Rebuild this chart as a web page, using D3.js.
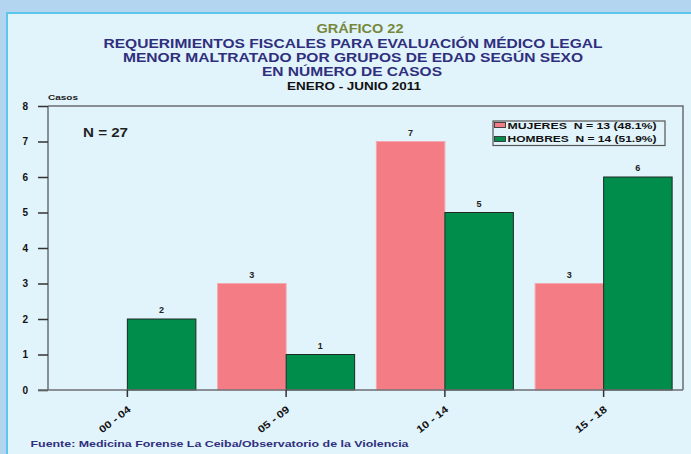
<!DOCTYPE html>
<html><head><meta charset="utf-8">
<script src="https://cdn.jsdelivr.net/npm/d3@7"></script>
<style>html,body{margin:0;padding:0;background:#b3d5ef;}svg{display:block;}</style>
</head><body>
<svg id="c" width="691" height="454"></svg>
<script>
const categories = ["00 - 04", "05 - 09", "10 - 14", "15 - 18"];
const seriesNames = ["MUJERES\u00a0\u00a0N = 13 (48.1%)", "HOMBRES\u00a0\u00a0N = 14 (51.9%)"];
const mujeres = [0, 3, 7, 3];
const hombres = [2, 1, 5, 6];
const yTicks = [0, 1, 2, 3, 4, 5, 6, 7, 8];

const svg = d3.select("#c");
const font = "Arial, 'Liberation Sans', Helvetica, sans-serif";
// panel
svg.append("rect").attr("x", 7).attr("y", 13).attr("width", 700).attr("height", 460)
  .attr("fill", "#e1f3fb").attr("stroke", "#5cc6ec").attr("stroke-width", 2);

const m = {l: 48, r: 683, t: 106, b: 390};
const x = d3.scaleBand().domain(categories).range([m.l, m.r]).paddingInner(0.137).paddingOuter(0.0685);
const xs = d3.scaleBand().domain([0, 1]).range([0, x.bandwidth()]);
const y = d3.scaleLinear().domain([0, 8]).range([m.b, m.t]);

// frame top & right
svg.append("path").attr("d", `M${m.l},${m.t}H${m.r}V${m.b}`).attr("fill", "none")
  .attr("stroke", "#6b6f73").attr("stroke-width", 1.5);

const colors = ["#f47c84", "#008c4a"];
const strokes = ["#f4a9b0", "#1e2a24"];
const series = [mujeres, hombres];
series.forEach((vals, si) => {
  const g = svg.append("g");
  categories.forEach((c, i) => {
    const v = vals[i];
    if (v <= 0) return;
    g.append("rect").attr("x", x(c) + xs(si)).attr("y", y(v))
      .attr("width", xs.bandwidth()).attr("height", y(0) - y(v))
      .attr("fill", colors[si]).attr("stroke", strokes[si]).attr("stroke-width", 1);
    g.append("text").attr("x", x(c) + xs(si) + xs.bandwidth() / 2).attr("y", y(v) - 6)
      .attr("text-anchor", "middle").attr("font-family", font).attr("font-weight", "bold")
      .attr("font-size", 9).attr("fill", "#222").text(v);
  });
});

// y axis
const ya = svg.append("g").attr("transform", `translate(${m.l},0)`)
  .call(d3.axisLeft(y).tickValues(yTicks).tickSize(10).tickPadding(10).tickFormat(d3.format("d")));
ya.select(".domain").attr("stroke", "#6b6f73").attr("stroke-width", 1.5).attr("d", `M0,${m.t}V${m.b}`);
ya.selectAll(".tick line").attr("stroke", "#333").attr("stroke-width", 1.5);
ya.selectAll(".tick text").attr("font-family", font).attr("font-weight", "bold").attr("font-size", 10).attr("fill", "#111");

// x axis
const xa = svg.append("g").attr("transform", `translate(0,${m.b})`)
  .call(d3.axisBottom(x).tickSize(7).tickSizeOuter(0));
xa.select(".domain").attr("stroke", "#6b6f73").attr("stroke-width", 1.5).attr("d", `M${m.l - 10},0H${m.r}`);
xa.selectAll(".tick line").attr("stroke", "#333").attr("stroke-width", 1.5);
xa.selectAll(".tick text").attr("font-family", font).attr("font-weight", "bold").attr("font-size", 10).attr("fill", "#111")
  .attr("text-anchor", "end").attr("y", 0).attr("dy", "0.35em")
  .attr("textLength", 37).attr("lengthAdjust", "spacingAndGlyphs")
  .attr("transform", "translate(2,18) rotate(-38)");

// stretched text helper
const st = (txt, xx, yy, size, color, len, anchor) => {
  const e = svg.append("text").attr("x", xx).attr("y", yy).attr("text-anchor", anchor || "start")
    .attr("font-family", font).attr("font-weight", "bold").attr("font-size", size).attr("fill", color).text(txt);
  if (len) e.attr("textLength", len).attr("lengthAdjust", "spacingAndGlyphs");
  return e;
};
st("GRÁFICO 22", 360, 33, 12, "#76873a", 87, "middle");
st("REQUERIMIENTOS FISCALES PARA EVALUACIÓN MÉDICO LEGAL", 353, 47.5, 12, "#2f2f7d", 499, "middle");
st("MENOR MALTRATADO POR GRUPOS DE EDAD SEGÚN SEXO", 353, 62, 12, "#2f2f7d", 460, "middle");
st("EN NÚMERO DE CASOS", 352, 76, 12, "#2f2f7d", 180, "middle");
st("ENERO - JUNIO 2011", 354, 90, 10.5, "#111", 134, "middle");
st("Casos", 48, 99.5, 8, "#222", 30);
st("N = 27", 83, 137, 13, "#222", 45);

// legend
const lg = svg.append("g").attr("transform", "translate(493,121)");
lg.append("rect").attr("width", 172).attr("height", 24.5).attr("fill", "#e1f3fb").attr("stroke", "#555").attr("stroke-width", 1.2);
seriesNames.forEach((n, i) => {
  lg.append("rect").attr("x", 1.5).attr("y", 1.5 + i * 14).attr("width", 11).attr("height", 5)
    .attr("fill", colors[i]).attr("stroke", "#333").attr("stroke-width", 0.9);
  lg.append("text").attr("x", 14.5).attr("y", 7.5 + i * 13.5).attr("font-family", font).attr("font-weight", "bold")
    .attr("font-size", 9).attr("fill", "#111").attr("textLength", 149).attr("lengthAdjust", "spacingAndGlyphs").text(n);
});

st("Fuente: Medicina Forense La Ceiba/Observatorio de la Violencia", 30.5, 447, 9.5, "#2f2f7d", 378);
</script>
</body></html>
